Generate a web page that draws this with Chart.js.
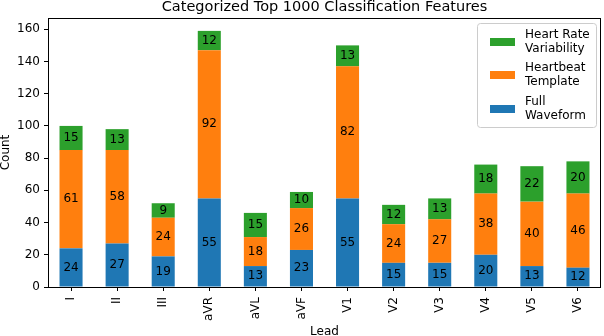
<!DOCTYPE html>
<html>
<head>
<meta charset="utf-8">
<script src="https://cdn.jsdelivr.net/npm/chart.js@4/dist/chart.umd.min.js"></script>
<style>
  html, body { margin: 0; padding: 0; background: #fff; }
  #wrap { width: 604px; height: 336px; position: relative; }
</style>
</head>
<body>
<div id="wrap"><canvas id="chart"></canvas></div>
<script>
// Data
const leads = ['I', 'II', 'III', 'aVR', 'aVL', 'aVF', 'V1', 'V2', 'V3', 'V4', 'V5', 'V6'];
const fullWaveform = [24, 27, 19, 55, 13, 23, 55, 15, 15, 20, 13, 12];
const heartbeatTemplate = [61, 58, 24, 92, 18, 26, 82, 24, 27, 38, 40, 46];
const heartRateVar = [15, 13, 9, 12, 15, 10, 13, 12, 13, 18, 22, 20];
const yTicks = [0, 20, 40, 60, 80, 100, 120, 140, 160];

const FONT = '"DejaVu Sans", sans-serif';
const BLUE = '#1f77b4', ORANGE = '#ff7f0e', GREEN = '#2ca02c';

/* ── segment value labels ── */
const valueLabels = {
  id: 'valueLabels',
  afterDatasetsDraw(chart) {
    const ctx = chart.ctx;
    ctx.save();
    ctx.font = '12px ' + FONT;
    ctx.fillStyle = '#000';
    ctx.textAlign = 'center';
    ctx.textBaseline = 'middle';
    chart.data.datasets.forEach((ds, i) => {
      chart.getDatasetMeta(i).data.forEach((bar, j) => {
        const p = bar.getProps(['x', 'y', 'base'], true);
        ctx.fillText(String(ds.data[j]), p.x, (p.y + p.base) / 2);
      });
    });
    ctx.restore();
  }
};

/* ── frame, titles, legend (matplotlib look) ── */
const decor = {
  id: 'decor',
  afterDraw(chart) {
    const ctx = chart.ctx;
    const a = chart.chartArea;
    ctx.save();
    // frame
    ctx.strokeStyle = '#000';
    ctx.lineWidth = 1;
    ctx.strokeRect(Math.round(a.left) + 0.5, Math.round(a.top) + 0.5,
      Math.round(a.right - a.left) - 1, Math.round(a.bottom - a.top));
    // title
    ctx.fillStyle = '#000';
    ctx.font = '14.5px ' + FONT;
    ctx.textAlign = 'center';
    ctx.textBaseline = 'alphabetic';
    ctx.fillText('Categorized Top 1000 Classification Features', (a.left + a.right) / 2, 11);
    // axis titles
    ctx.font = '12px ' + FONT;
    ctx.textBaseline = 'middle';
    ctx.fillText('Lead', (a.left + a.right) / 2, 332);
    ctx.save();
    ctx.translate(6, (a.top + a.bottom) / 2);
    ctx.rotate(-Math.PI / 2);
    ctx.fillText('Count', 0, 0);
    ctx.restore();

    // legend
    const bx = 477.5, by = 23.5, bw = 119, bh = 104, r = 3;
    ctx.beginPath();
    ctx.moveTo(bx + r, by);
    ctx.arcTo(bx + bw, by, bx + bw, by + bh, r);
    ctx.arcTo(bx + bw, by + bh, bx, by + bh, r);
    ctx.arcTo(bx, by + bh, bx, by, r);
    ctx.arcTo(bx, by, bx + bw, by, r);
    ctx.closePath();
    ctx.fillStyle = 'rgba(255,255,255,0.8)';
    ctx.fill();
    ctx.strokeStyle = '#cccccc';
    ctx.stroke();

    const items = [
      { color: GREEN, lines: ['Heart Rate', 'Variability'], cy: 42 },
      { color: ORANGE, lines: ['Heartbeat', 'Template'], cy: 75 },
      { color: BLUE, lines: ['Full', 'Waveform'], cy: 109 }
    ];
    ctx.font = '12px ' + FONT;
    ctx.textAlign = 'left';
    items.forEach(it => {
      ctx.fillStyle = it.color;
      ctx.fillRect(490, it.cy - 4, 25, 8);
      ctx.fillStyle = '#000';
      ctx.fillText(it.lines[0], 525, it.cy - 7);
      ctx.fillText(it.lines[1], 525, it.cy + 7);
    });
    ctx.restore();
  }
};

new Chart(document.getElementById('chart'), {
  type: 'bar',
  data: {
    labels: leads,
    datasets: [
      { label: 'Full Waveform', data: fullWaveform, backgroundColor: BLUE },
      { label: 'Heartbeat Template', data: heartbeatTemplate, backgroundColor: ORANGE },
      { label: 'Heart Rate Variability', data: heartRateVar, backgroundColor: GREEN }
    ]
  },
  options: {
    responsive: true,
    maintainAspectRatio: false,
    animation: false,
    layout: { padding: { top: 18, right: 3, left: 0, bottom: 0 } },
    datasets: { bar: { barPercentage: 0.5, categoryPercentage: 1.0 } },
    plugins: {
      legend: { display: false },
      title: { display: false },
      tooltip: { enabled: false }
    },
    scales: {
      x: {
        stacked: true,
        afterFit: s => { s.height = 49; },
        grid: { offset: false, drawOnChartArea: false, drawTicks: true, tickLength: 4, color: '#000' },
        border: { display: false },
        ticks: { color: '#000', font: { family: FONT, size: 12 }, minRotation: 90, maxRotation: 90, padding: 6 }
      },
      y: {
        stacked: true,
        min: 0,
        max: 167,
        afterFit: s => { s.width = 48; },
        afterBuildTicks: s => { s.ticks = yTicks.map(v => ({ value: v })); },
        grid: { drawOnChartArea: false, drawTicks: true, tickLength: 4, color: '#000' },
        border: { display: false },
        ticks: { color: '#000', font: { family: FONT, size: 12 }, padding: 4 }
      }
    }
  },
  plugins: [valueLabels, decor]
});
</script>
</body>
</html>
